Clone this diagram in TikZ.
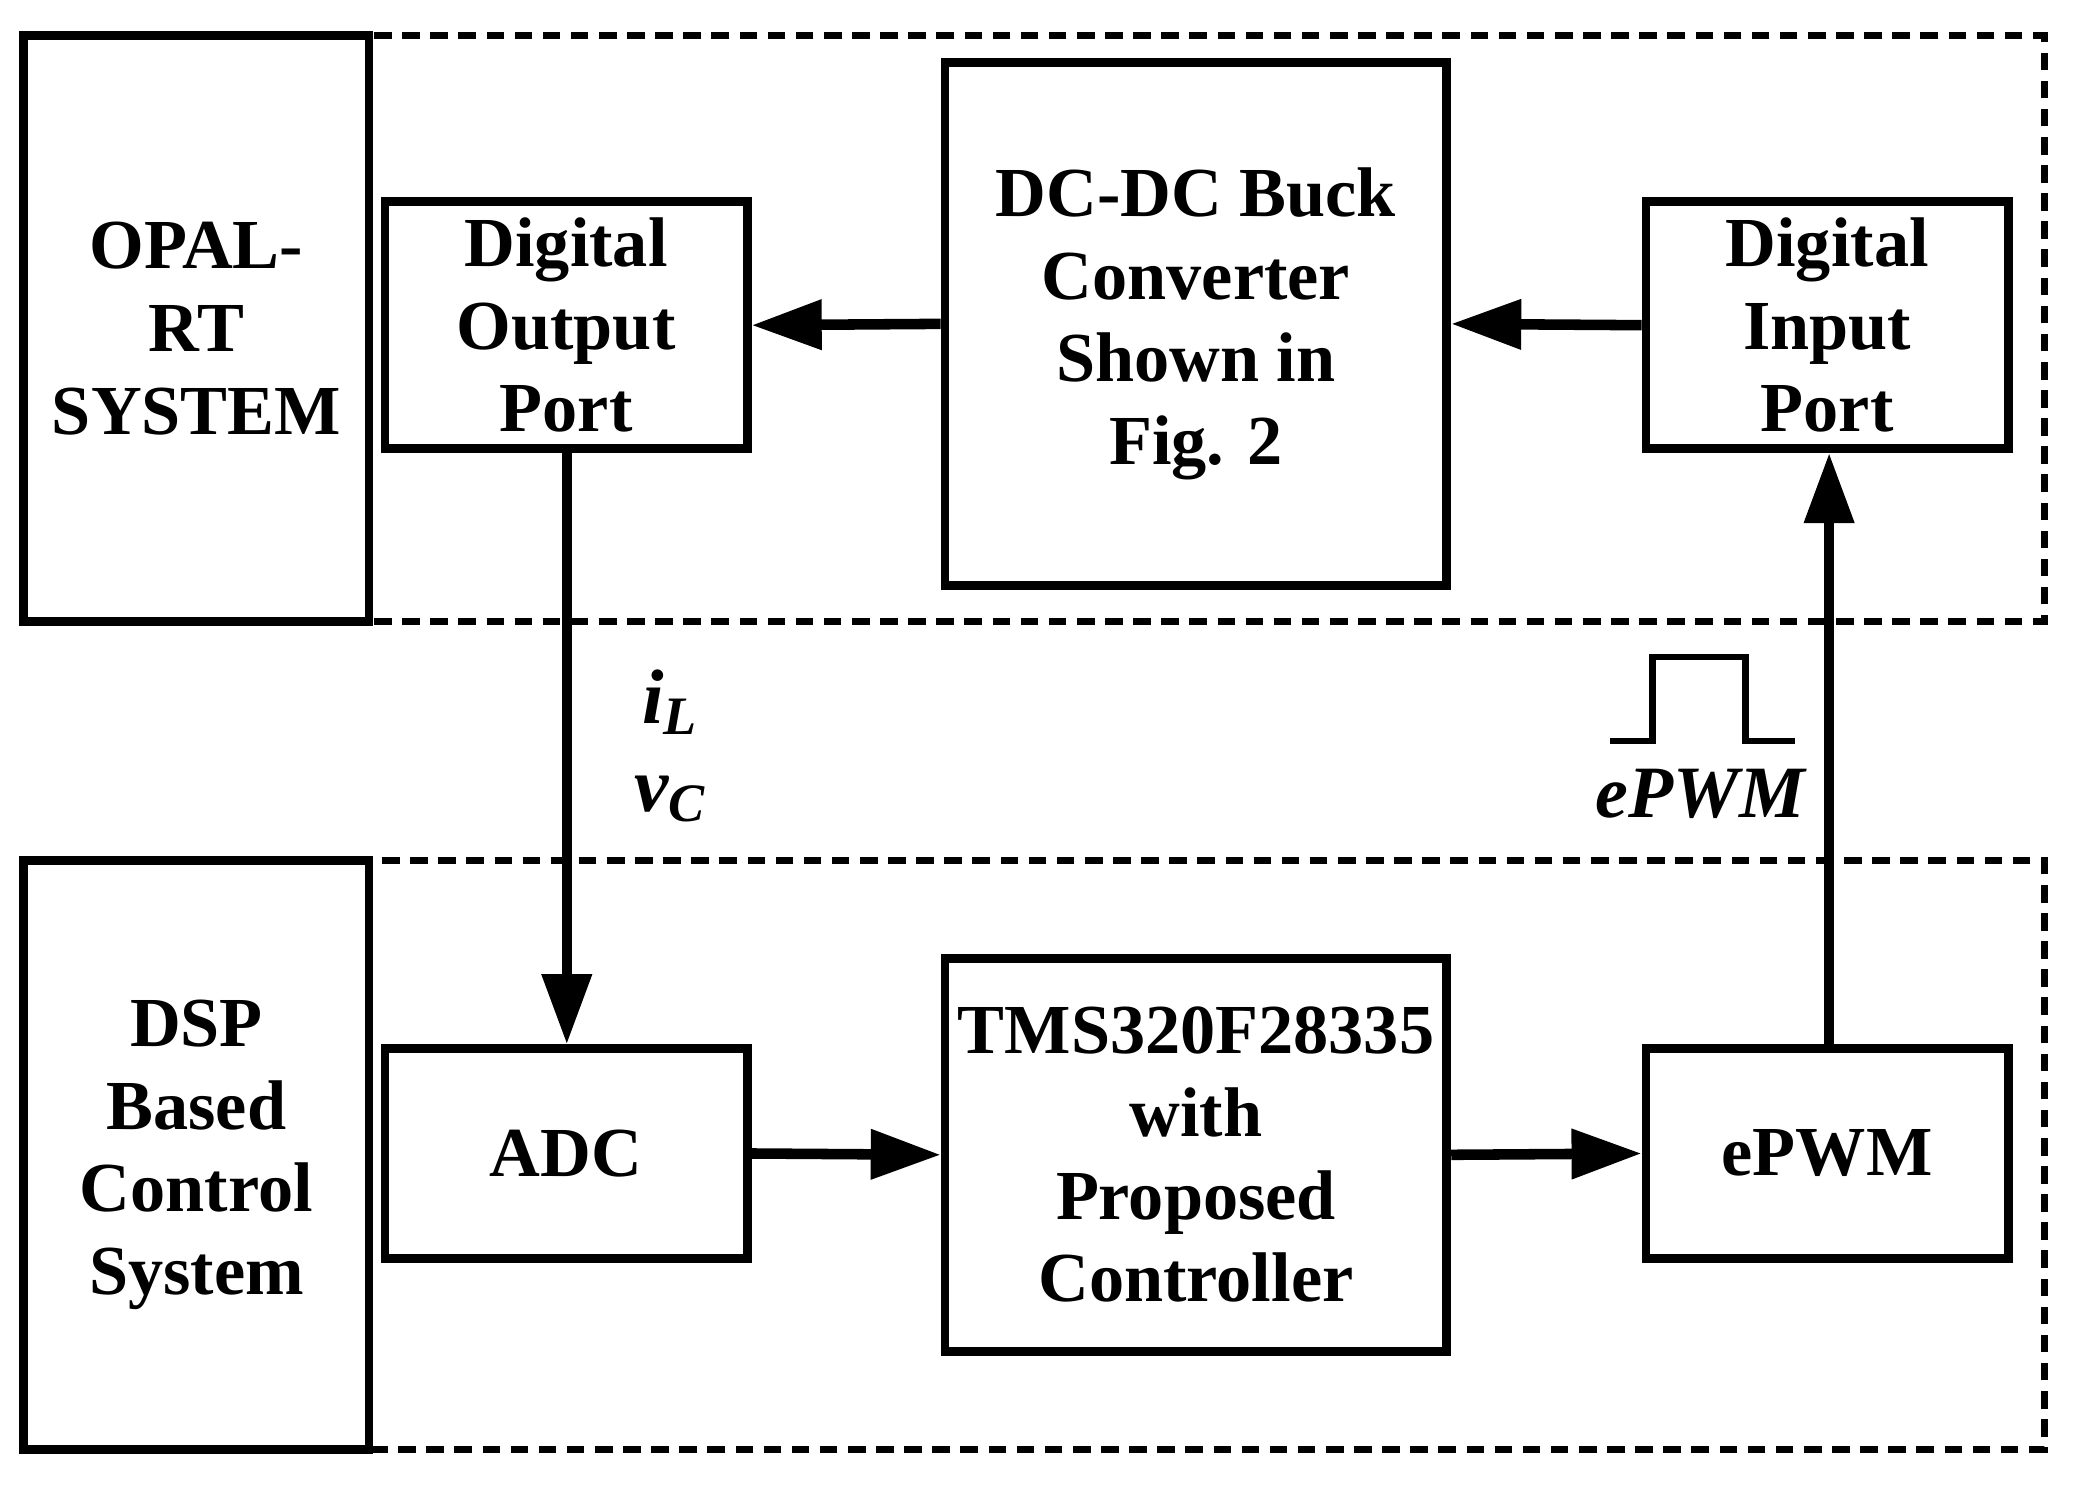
\documentclass[tikz,border=0pt]{standalone}
\usepackage{fontspec}
\setmainfont{Liberation Serif}
\usetikzlibrary{arrows.meta}
\tikzset{
  blk/.style={draw,line width=2.5pt,align=center,inner sep=0pt,font=\bfseries\fontsize{20}{23.5}\selectfont},
  frame/.style={draw,line width=2pt,dash pattern=on 5pt off 3pt},
  link/.style={line width=3pt,-{Triangle[length=0.7cm,width=0.48cm]}},
}
\begin{document}
\begin{tikzpicture}[x=0.01327cm,y=-0.01327cm]
\useasboundingbox (0,0) rectangle (1567,1123);
% dashed frames
\draw[frame] (278,27) rectangle (1540,468);
\draw[frame] (278,648) rectangle (1540,1092);
% blocks
\node[blk,minimum width=260*0.01327cm,minimum height=441*0.01327cm] (opal) at (148,247.5) {OPAL-\\RT\\SYSTEM};
\node[blk,minimum width=260*0.01327cm,minimum height=444*0.01327cm] (dsp) at (148,870) {DSP\\Based\\Control\\System};
\node[blk,minimum width=273*0.01327cm,minimum height=186*0.01327cm] (dout) at (426.5,245) {Digital\\Output\\Port};
\node[blk,minimum width=378*0.01327cm,minimum height=394*0.01327cm] (buck) at (901,244) {DC-DC Buck\\Converter\\Shown in\\Fig. 2};
\node[blk,minimum width=273*0.01327cm,minimum height=186*0.01327cm] (din) at (1376.5,245) {Digital\\Input\\Port};
\node[blk,minimum width=273*0.01327cm,minimum height=158*0.01327cm] (adc) at (426.5,869) {ADC};
\node[blk,minimum width=378*0.01327cm,minimum height=296*0.01327cm] (tms) at (901,870) {TMS320F28335\\with\\Proposed\\Controller};
\node[blk,minimum width=273*0.01327cm,minimum height=158*0.01327cm] (epwm) at (1376.5,869) {ePWM};
% connectors
\draw[link] (buck.west) -- (dout.east);
\draw[link] (din.west) -- (buck.east);
\draw[link] (dout.south-|427,0) -- (adc.north-|427,0);
\draw[link] (adc.east) -- (tms.west);
\draw[link] (tms.east) -- (epwm.west);
\draw[link] (epwm.north-|1378,0) -- (din.south-|1378,0);
% signal labels
\node[font=\bfseries\itshape\fontsize{22}{25}\selectfont,align=center] (sig) at (505,562) {i\textsubscript{L}\\v\textsubscript{C}};
\draw[line width=1.8pt] (1213,558) -- (1245,558) -- (1245,495) -- (1315,495) -- (1315,558) -- (1352,558);
\node[font=\bfseries\itshape\fontsize{21}{26}\selectfont] (plbl) at (1281,598) {ePWM};
\end{tikzpicture}
\end{document}
